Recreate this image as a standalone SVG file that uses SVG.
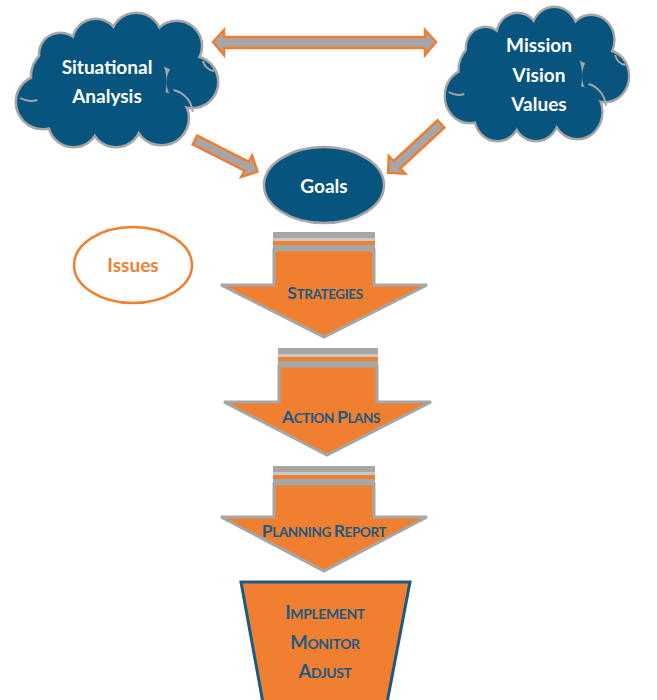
<svg xmlns="http://www.w3.org/2000/svg" xmlns:xlink="http://www.w3.org/1999/xlink" width="657" height="700" viewBox="0 0 657 700">
<style>
.cloudtxt{font-family:Lato,"Liberation Sans",sans-serif;font-weight:bold;font-size:19px;fill:#ffffff;text-anchor:middle}
.issues{font-family:Lato,"Liberation Sans",sans-serif;font-weight:bold;font-size:19px;fill:#F08030;text-anchor:middle}
.sc{font-family:Lato,"Liberation Sans",sans-serif;font-weight:bold;font-size:13.5px;fill:#1B5A85;text-anchor:middle;letter-spacing:-0.4px}
.big{font-size:17.5px}
.tz{font-size:14px}
.tzb{font-size:18.5px}
.body{fill:#F08030;stroke:#A6A6A6;stroke-width:3;stroke-linejoin:miter}
.gr{fill:#A6A6A6}
.conn{fill:#A6A6A6;stroke:#EE7D31;stroke-width:2.5;stroke-linejoin:miter}
</style>
<defs>
<g id="cloudCircles">
<circle cx="100" cy="68" r="50"/>
<circle cx="45" cy="62" r="28"/>
<circle cx="28" cy="88" r="26"/>
<circle cx="58" cy="108" r="24"/>
<circle cx="100" cy="108" r="24"/>
<circle cx="145" cy="104" r="26"/>
<circle cx="175" cy="68" r="25"/>
<circle cx="160" cy="32" r="24"/>
<circle cx="120" cy="24" r="24"/>
<circle cx="80" cy="28" r="22"/>
<circle cx="45" cy="40" r="20"/>
</g>
<g id="cloudShape">
<use href="#cloudCircles" fill="#A6A6A6" stroke="#A6A6A6" stroke-width="5"/>
<use href="#cloudCircles" fill="#07547F"/>
<g fill="none" stroke="#A6A6A6" stroke-width="2">
<path d="M157,76 A25,25 0 0 1 176,98"/>
<path d="M186,47 A14,14 0 0 0 197,57"/>
<path d="M5,84 A22,22 0 0 0 22,86"/>
</g>
</g>
</defs>

<g id="connectors">
<polygon class="conn" points="213,42 224,30 224,37 425,37 425,30 436,42 425,55 425,48 224,48 224,55"/>
<polygon class="conn" transform="translate(195,140) rotate(26.9)" points="0,-5 58,-5 58,-12 70,0 58,12 58,5 0,5"/>
<polygon class="conn" transform="translate(441,124) rotate(137.2)" points="0,-5 60,-5 60,-12 72,0 60,12 60,5 0,5"/>
</g>

<g id="situational">
<use href="#cloudShape" transform="translate(15,14) scale(1.01,1)"/>
<text class="cloudtxt" x="107" y="74">Situational</text>
<text class="cloudtxt" x="107" y="103">Analysis</text>
</g>

<g id="mission">
<use href="#cloudShape" transform="translate(444,8) scale(0.92,1)"/>
<text class="cloudtxt" x="539" y="52">Mission</text>
<text class="cloudtxt" x="539" y="82">Vision</text>
<text class="cloudtxt" x="539" y="111">Values</text>
</g>

<g id="goals">
<ellipse cx="324" cy="185" rx="60" ry="38" fill="#07547F" stroke="#A6A6A6" stroke-width="2.5"/>
<text class="cloudtxt" x="324" y="193">Goals</text>
</g>

<g id="issues">
<ellipse cx="133" cy="265" rx="59" ry="38" fill="#ffffff" stroke="#F08030" stroke-width="2.5"/>
<text class="issues" x="133" y="272">Issues</text>
</g>

<g id="strategies">
<rect class="gr" x="273" y="232" width="102" height="6"/>
<rect x="273" y="238" width="102" height="3" fill="#C9C9C9"/>
<rect x="273" y="241" width="102" height="4" fill="#F08030"/>
<rect class="gr" x="273" y="245" width="102" height="5"/>
<polygon class="body" points="274,250 374,250 374,285 427,285 324,337 221,285 274,285"/>
<text class="sc" x="325" y="299"><tspan class="big">S</tspan>TRATEGIES</text>
</g>

<g id="actionplans">
<rect class="gr" x="278" y="348" width="100" height="6"/>
<rect x="278" y="354" width="100" height="3" fill="#C9C9C9"/>
<rect x="278" y="357" width="100" height="4" fill="#F08030"/>
<rect class="gr" x="278" y="361" width="100" height="5"/>
<polygon class="body" points="279,366 377,366 377,402 431,402 327,455 224,402 279,402"/>
<text class="sc" x="331" y="423"><tspan class="big">A</tspan>CTION <tspan class="big">P</tspan>LANS</text>
</g>

<g id="planningreport">
<rect class="gr" x="273" y="466" width="102" height="6"/>
<rect x="273" y="472" width="102" height="3" fill="#C9C9C9"/>
<rect x="273" y="475" width="102" height="4" fill="#F08030"/>
<rect class="gr" x="273" y="479" width="102" height="5"/>
<polygon class="body" points="274,484 374,484 374,517 427,517 324,571 221,517 274,517"/>
<text class="sc" x="324" y="537"><tspan class="big">P</tspan>LANNING <tspan class="big">R</tspan>EPORT</text>
</g>

<g id="implement">
<polygon points="241,582 410,582 387,703 263,703" fill="#F08030" stroke="#1B5A85" stroke-width="3"/>
<text class="sc tz" x="325" y="619"><tspan class="tzb">I</tspan>MPLEMENT</text>
<text class="sc tz" x="325" y="649"><tspan class="tzb">M</tspan>ONITOR</text>
<text class="sc tz" x="325" y="678"><tspan class="tzb">A</tspan>DJUST</text>
</g>
</svg>
